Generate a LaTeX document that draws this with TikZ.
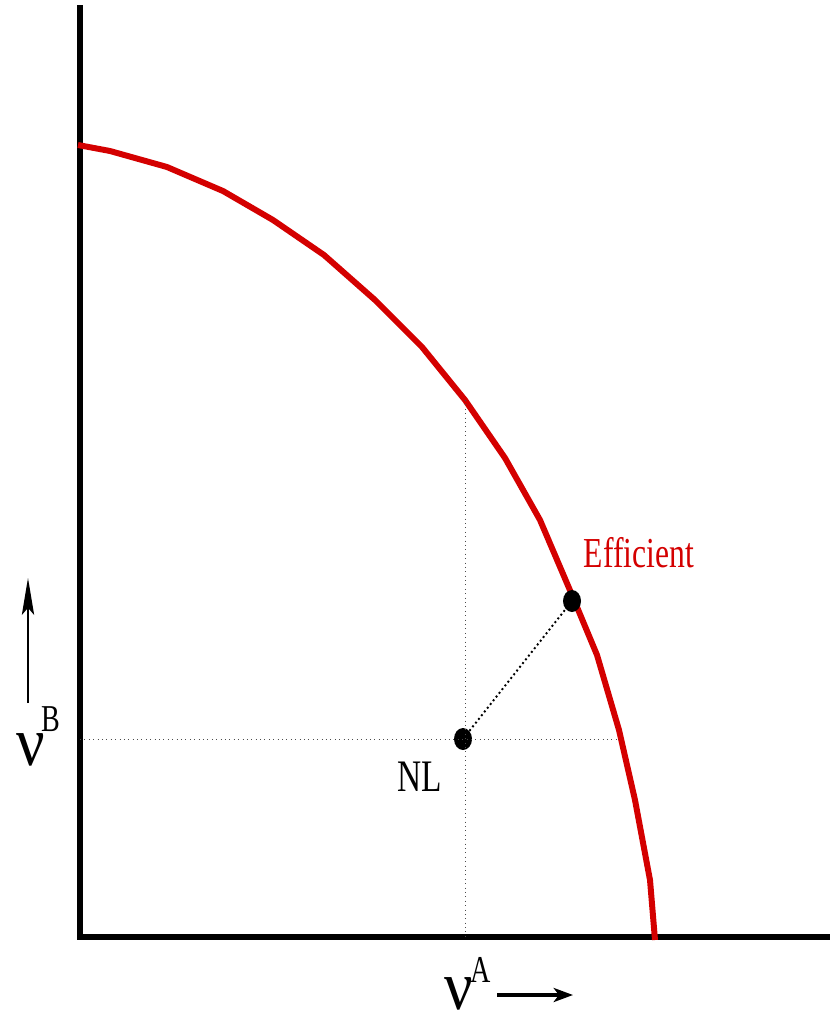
\documentclass[tikz,border=0pt]{standalone}
\usepackage{fontspec}
\usepackage{graphicx}
\setmainfont{Liberation Serif}
\usetikzlibrary{arrows.meta,positioning,shapes.geometric}
\definecolor{frontred}{HTML}{D40000}
\newcommand{\tallt}[1]{\scalebox{1}[1.35]{#1}}

\begin{document}
\begin{tikzpicture}[
            x=0.02cm, y=-0.02cm,
            every node/.style={font=\fontsize{18}{20}\selectfont, inner sep=0pt},
            axisl/.style={line width=3pt},
            frontl/.style={draw=frontred, line width=3.4pt, line join=round},
            guide/.style={black!70, line width=0.4pt, dash pattern=on 0.5pt off 2pt},
            link/.style={line width=1.1pt, dash pattern=on 1.1pt off 1.6pt},
            dot/.style={ellipse, fill=black, inner sep=0pt, minimum width=0.36cm, minimum height=0.44cm},
            nuf/.style={font=\fontsize{36}{38}\selectfont},
            supf/.style={font=\fontsize{16}{18}\selectfont}
        ]
        \useasboundingbox (0,0) rectangle (830,1021);

        % achsen
        \coordinate (origin) at (80,937);
        \draw[axisl] (80,5) -- (origin) -- (830,937);

        % effizienzgrenze (polygonzug)
        \draw[frontl] (78,145) -- (110,151) -- (167,167) -- (223,191) -- (273,220)
            -- (324,255) -- (375,300) -- (422,347) -- (465,400) -- (505,458)
            -- (540,520) -- (572,595) -- (597,655) -- (619,730) -- (635,800)
            -- (650,880) -- (655,940);

        % punkte
        \node[dot] (nl) at (463,739) {};
        \node[dot] (eff) at (572,601) {};
        \coordinate (nlx) at (465,937);
        \coordinate (nly) at (80,739);
        \coordinate (frontx) at (465,400);
        \coordinate (fronty) at (620,739);

        \draw[guide] (frontx) -- (nlx);
        \draw[guide] (nly) -- (fronty);
        \draw[link] (nl) -- (eff);

        \node[font=\fontsize{19}{21}\selectfont] (nllbl) at (420,777) {\tallt{NL}};
        \node[text=frontred] (efflbl) at (639,553) {\tallt{Efficient}};

        % achsenbeschriftung
        \node[nuf] (nub) at (31,750) {\scalebox{1}[1.1]{ν}};
        \node[supf] (supb) at (51,719) {\tallt{B}};
        \node[nuf] (nua) at (459,994) {\scalebox{1}[1.1]{ν}};
        \node[supf] (supa) at (481,970) {\tallt{A}};

        \coordinate (upb) at (28,703);
        \coordinate (upe) at (28,578);
        \draw[-{Stealth[length=21pt, width=7pt, inset=4pt]}, line width=1.1pt] (upb) -- (upe);
        \coordinate (rtb) at (497,995);
        \coordinate (rte) at (573,995);
        \draw[-{Stealth[length=11pt, width=8pt, inset=3pt]}, line width=2.2pt] (rtb) -- (rte);
    \end{tikzpicture}
\end{document}
